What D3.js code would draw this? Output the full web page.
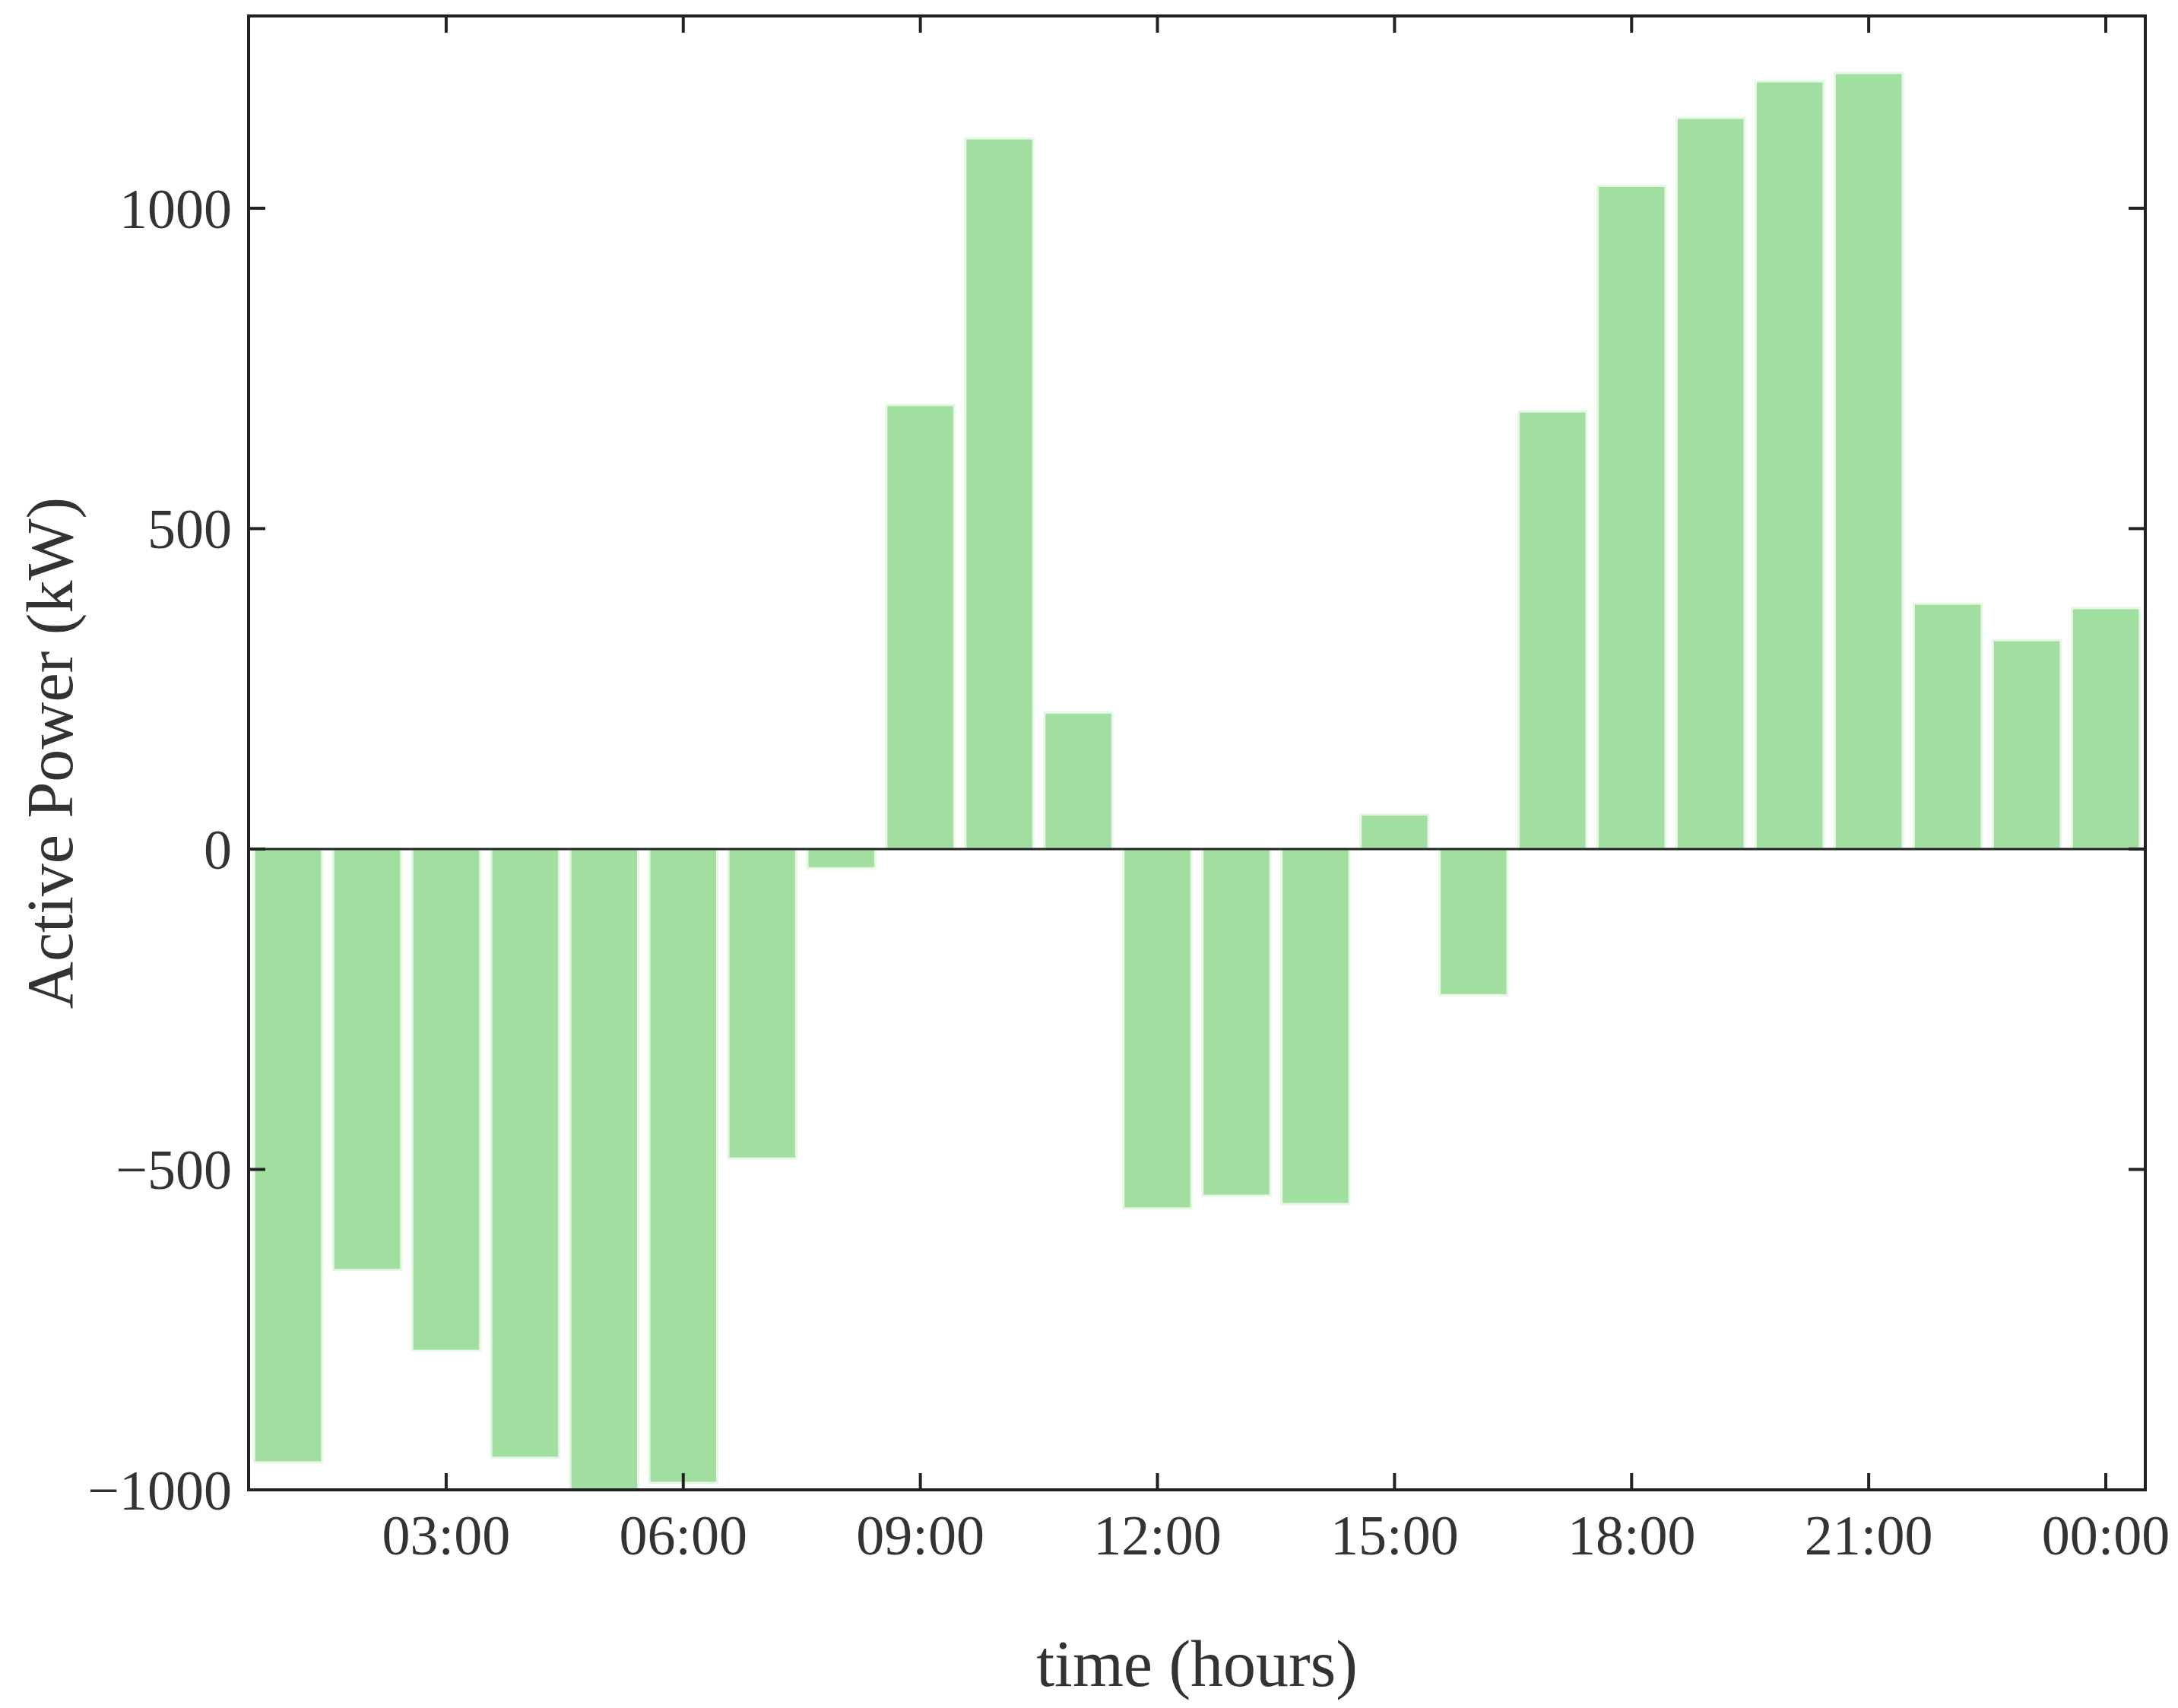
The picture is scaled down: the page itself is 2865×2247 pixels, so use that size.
<!DOCTYPE html>
<html><head><meta charset="utf-8">
<script src="https://cdn.jsdelivr.net/npm/d3@7"></script>
<style>body{margin:0;background:#fff}</style></head>
<body><svg id="c" width="2865" height="2247"></svg>
<script>
const hours = d3.range(1, 25);
const power = [-957,-657,-783,-950,-1000,-989,-483,-30,693,1109,213,-561,-541,-554,54,-228,683,1035,1141,1198,1211,383,326,376];
const yTicks = [-1000,-500,0,500,1000];
const xTicks = [3,6,9,12,15,18,21,24];
const xTickLabels = ["03:00","06:00","09:00","12:00","15:00","18:00","21:00","00:00"];

const svg = d3.select("#c");
const L=327, R=2822, T=21, B=1960;
const x = d3.scaleLinear().domain([0.5,24.5]).range([L,R]);
const y = d3.scaleLinear().domain([-1000,1300]).range([B,T]);
const bw = (x(1)-x(0))*0.86;
const font = "'Liberation Serif', 'DejaVu Serif', serif";

svg.append("g").selectAll("rect").data(hours).join("rect")
  .attr("x", (h)=>x(h)-bw/2).attr("width", bw)
  .attr("y", (h,i)=>y(Math.max(0,power[i])))
  .attr("height", (h,i)=>Math.abs(y(power[i])-y(0)))
  .attr("fill","#a1dfa0").attr("stroke","#e6f7e6").attr("stroke-width",3);

svg.append("line").attr("x1",L).attr("x2",R).attr("y1",y(0)).attr("y2",y(0)).attr("stroke","#222").attr("stroke-width",3);

const tick = 22;
const ax = svg.append("g").attr("font-family",font).attr("font-size",74).attr("fill","#333");
yTicks.forEach(v=>{
  ax.append("line").attr("x1",L).attr("x2",L+tick).attr("y1",y(v)).attr("y2",y(v)).attr("stroke","#222").attr("stroke-width",4);
  ax.append("line").attr("x1",R).attr("x2",R-tick).attr("y1",y(v)).attr("y2",y(v)).attr("stroke","#222").attr("stroke-width",4);
  ax.append("text").attr("x",L-22).attr("y",y(v)).attr("dy","0.35em").attr("text-anchor","end").attr("fill","#333")
    .text(v<0 ? "\u2212"+Math.abs(v) : v);
});
xTicks.forEach((v,i)=>{
  ax.append("line").attr("x1",x(v)).attr("x2",x(v)).attr("y1",B).attr("y2",B-tick).attr("stroke","#222").attr("stroke-width",4);
  ax.append("line").attr("x1",x(v)).attr("x2",x(v)).attr("y1",T).attr("y2",T+tick).attr("stroke","#222").attr("stroke-width",4);
  ax.append("text").attr("x",x(v)).attr("y",B+85).attr("text-anchor","middle").attr("fill","#333").text(xTickLabels[i]);
});
svg.append("rect").attr("x",L).attr("y",T).attr("width",R-L).attr("height",B-T).attr("fill","none").attr("stroke","#222").attr("stroke-width",4);

svg.append("text").attr("x",(L+R)/2).attr("y",2218).attr("text-anchor","middle").attr("font-family",font).attr("font-size",86).attr("fill","#333").text("time (hours)");
svg.append("text").attr("transform",`translate(95,${(T+B)/2}) rotate(-90)`).attr("text-anchor","middle").attr("font-family",font).attr("font-size",86).attr("fill","#333").text("Active Power (kW)");
</script></body></html>
